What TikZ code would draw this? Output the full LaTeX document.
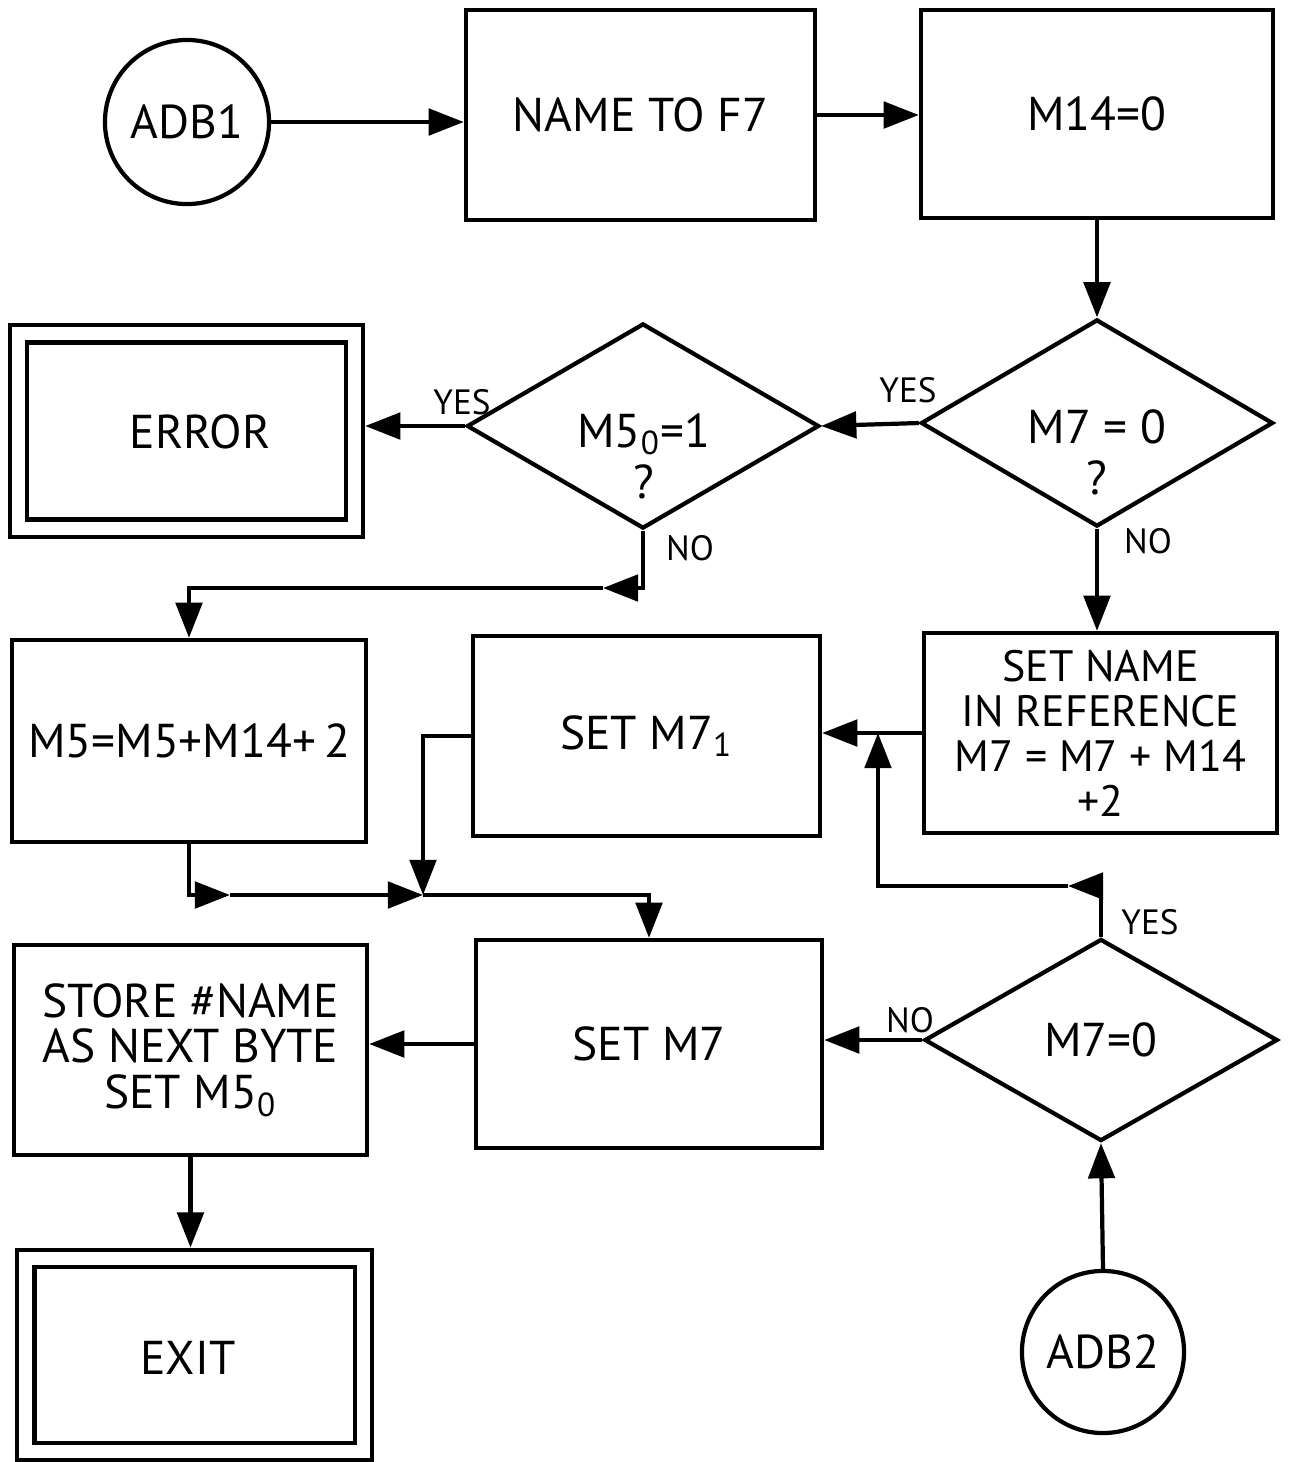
\documentclass[tikz,border=0pt]{standalone}
\usepackage{fontspec}
\setmainfont{PT Sans}
\usetikzlibrary{shapes.geometric,arrows.meta}
\begin{document}
\begin{tikzpicture}[x=0.01cm,y=-0.01cm,
  line width=1.2pt,
  every node/.style={font=\fontsize{13.5}{16}\selectfont},
  box/.style={draw, rectangle, inner sep=0pt, align=center},
  term/.style={draw, rectangle, double, double distance=0.13cm, inner sep=0pt},
  conn/.style={draw, circle, inner sep=0pt},
  dia/.style={draw, diamond, aspect=1.7, inner sep=0pt},
  lbl/.style={font=\fontsize{10}{12}\selectfont, inner sep=0pt},
  qtxt/.style={align=center, font=\fontsize{13.5}{14.5}\selectfont, inner sep=0pt},
  arr/.style={-{Triangle[length=10pt,width=7.5pt]}},
]
\useasboundingbox (0,0) rectangle (1293,1462);

% nodes
\node[conn, minimum size=1.64cm] (adb1) at (187,122) {ADB1};
\node[box, minimum width=3.49cm, minimum height=2.10cm] (f7) at (640.5,115) {NAME TO F7};
\node[box, minimum width=3.52cm, minimum height=2.08cm] (m14) at (1097,114) {M14=0};

\node[dia, minimum width=3.52cm, minimum height=2.07cm] (q1) at (1097,423) {};
\node[qtxt] (q1t) at (1097,452) {M7 = 0\\?};
\node[dia, minimum width=3.52cm, minimum height=2.05cm] (q2) at (643,426) {};
\node[qtxt] (q2t) at (644,456) {M5\textsubscript{0}=1\\?};
\node[term, minimum width=3.36cm, minimum height=1.94cm] (error) at (186.5,431) {};
\node (errt) at (200,432) {ERROR};

\node[box, minimum width=3.54cm, minimum height=2.02cm] (m5) at (189,741) {M5=M5+M14+\,2};
\node[box, minimum width=3.47cm, minimum height=2.00cm] (setm71) at (646.5,736) {SET M7\textsubscript{1}};
\node[box, minimum width=3.53cm, minimum height=2.00cm,
      font=\fontsize{12.5}{12.8}\selectfont] (setname) at (1100.5,733)
      {SET NAME\\IN REFERENCE\\M7 = M7 + M14\\+2};

\node[dia, minimum width=3.53cm, minimum height=2.02cm] (q3) at (1101,1040) {M7=0};
\node[box, minimum width=3.46cm, minimum height=2.08cm] (setm7) at (649,1044) {SET M7};
\node[box, minimum width=3.53cm, minimum height=2.10cm,
      font=\fontsize{13.5}{13}\selectfont] (store) at (190.5,1050)
      {STORE \#NAME\\AS NEXT BYTE\\SET M5\textsubscript{0}};
\node[term, minimum width=3.375cm, minimum height=1.925cm] (exit) at (194.75,1355) {};
\node (exitt) at (188,1358) {EXIT};
\node[conn, minimum size=1.62cm] (adb2) at (1103,1352) {ADB2};

% labels
\node[lbl] (y2) at (462,402) {YES};
\node[lbl] (y1) at (908,390) {YES};
\node[lbl] (n2) at (690,548) {NO};
\node[lbl] (n1) at (1148,541) {NO};
\node[lbl] (y3) at (1150,922) {YES};
\node[lbl] (n3) at (910,1020) {NO};

% helper coordinates
\coordinate (c6) at (603,588);
\coordinate (j1) at (878,733);
\coordinate (c9) at (1068,886);
\coordinate (c10) at (230,895);
\coordinate (j2) at (423,895);

% connectors
\draw[arr] (adb1.east) -- (adb1.east -| f7.west);
\draw[arr] (f7.east) -- (f7.east -| m14.west);
\draw[arr] (m14.south) -- (q1.north);
\draw[arr] (q1.west) -- (q2.east);
\draw[arr] (q2.west) -- ([xshift=0.085cm]q2.west -| error.east);
\draw[arr] (q2.south) |- (c6);
\draw[arr] (c6) -| (m5.north);
\draw[arr] (q1.south) -- (q1.south |- setname.north);
\draw[arr] (setname.west) -- (setname.west -| setm71.east);
\draw[arr] (q3.north) |- (c9);
\draw[arr] (c9) -| (j1);
\draw[arr] (m5.south) |- (c10);
\draw[arr] (c10) -- (j2);
\draw[arr] (j2) -| (setm7.north);
\draw[arr] (setm71.west) -| (j2);
\draw[arr] (q3.west) -- (q3.west -| setm7.east);
\draw[arr] (setm7.west) -- (setm7.west -| store.east);
\draw[arr] (store.south) -- ([yshift=0.09cm]store.south |- exit.north);
\draw[arr] (adb2.north) -- (q3.south);
\end{tikzpicture}
\end{document}
